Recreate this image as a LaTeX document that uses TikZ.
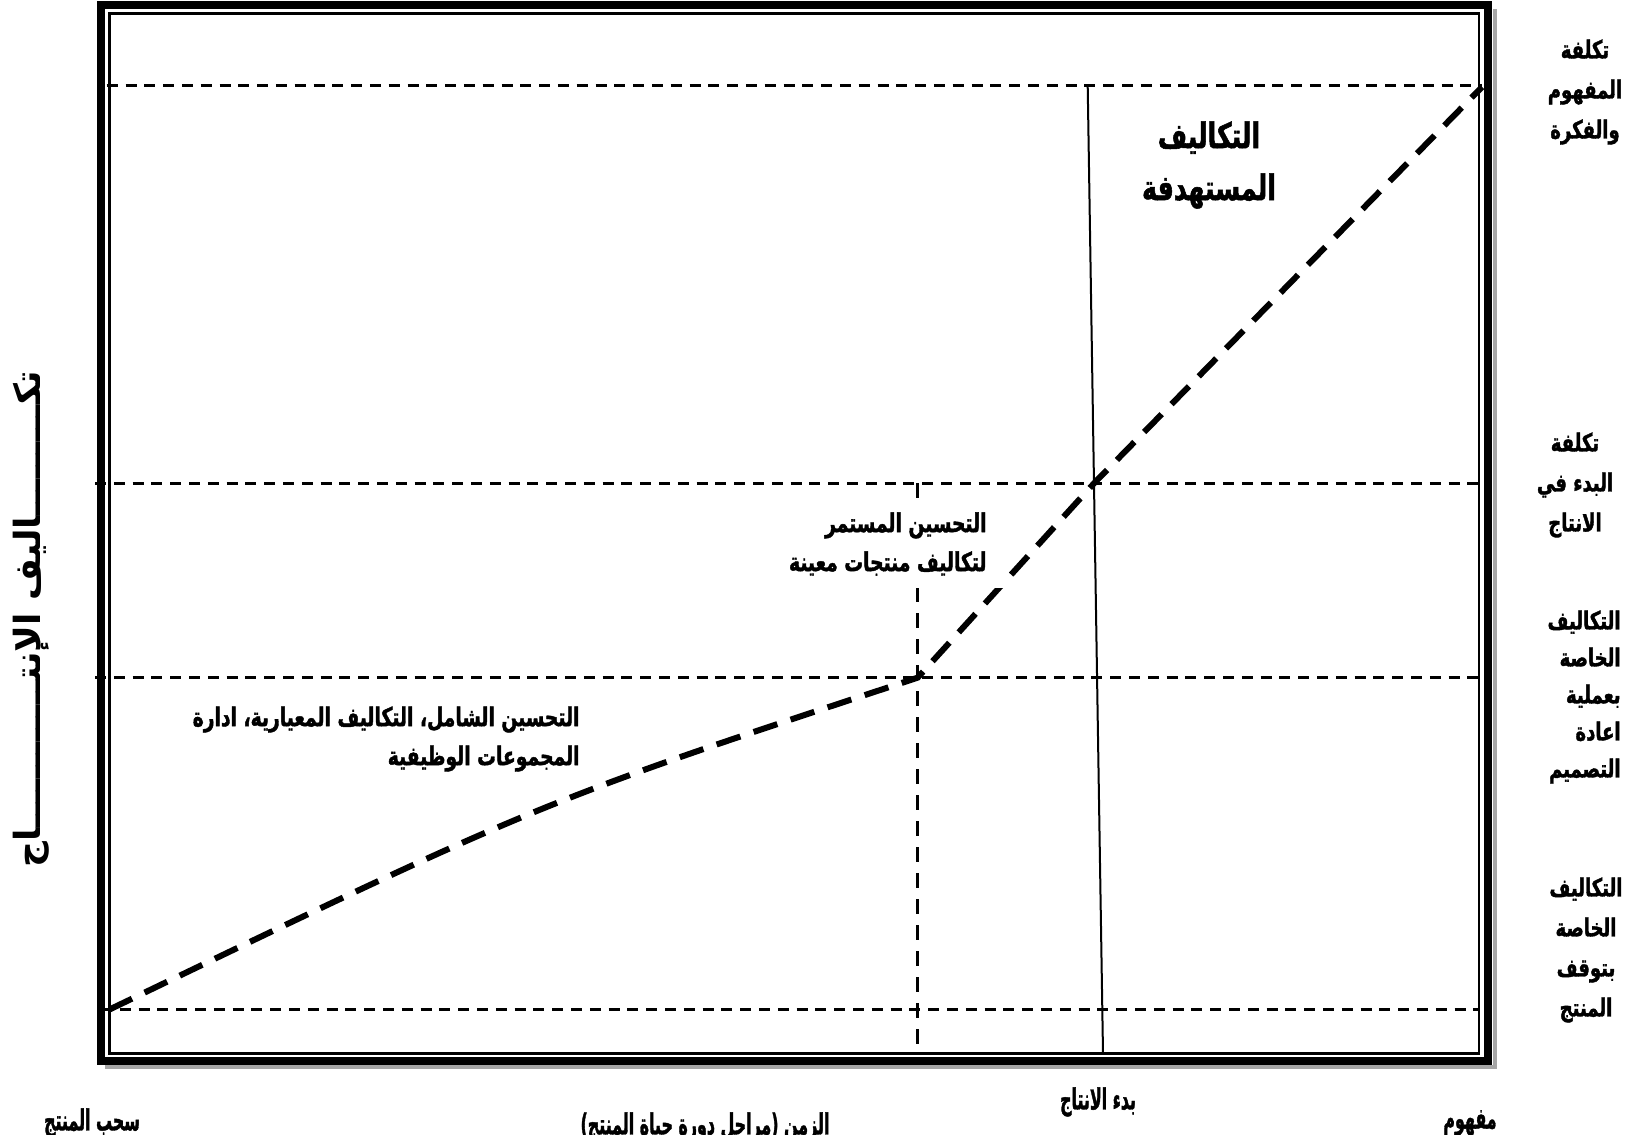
\documentclass[tikz,border=0pt]{standalone}
\usepackage{fontspec}
\usepackage{graphicx}
\TeXXeTstate=1
\newfontfamily\arabicfont[Script=Arabic, FakeStretch=0.72, FakeBold=1.5]{DejaVu Sans}
\newfontfamily\arabicplain[Script=Arabic]{DejaVu Sans}
\newcommand{\rl}[1]{\beginR #1\endR}
\newcommand{\narrow}[1]{\scalebox{0.76}[1]{#1}}

\begin{document}
\begin{tikzpicture}[x=0.5pt,y=-0.5pt,
  sidelbl/.style={font=\arabicfont\bfseries\fontsize{12.5}{20}\selectfont, align=center, inner sep=0pt},
  midlbl/.style={font=\arabicfont\bfseries\fontsize{13}{19.5}\selectfont, align=right, inner sep=0pt},
  biglbl/.style={font=\arabicfont\bfseries\fontsize{17.5}{26}\selectfont, align=center, inner sep=0pt},
  axislbl/.style={font=\arabicfont\bfseries\fontsize{14.5}{18}\selectfont, inner sep=0pt},
  hdash/.style={line width=1.5pt, dash pattern=on 5.5pt off 3.9pt},
  vdash/.style={line width=1.5pt, dash pattern=on 7.5pt off 5.5pt},
  costcurve/.style={line width=3pt, dash pattern=on 12.5pt off 7pt},
  outerframe/.style={line width=4pt},
  innerframe/.style={line width=1.25pt}]
\useasboundingbox (0,0) rectangle (1635,1135);

% double frame with a grey drop shadow
\fill[black!35] (105,9) rectangle (1497,1069);
\fill[white] (97,1) rectangle (1493,1065);
\draw[outerframe] (101,5) rectangle (1488,1061);
\draw[innerframe] (109.5,13.5) rectangle (1479,1053.4);

% reference points of the cost levels and stages
\coordinate (t1l) at (106.7,85.7);  \coordinate (t1r) at (1482,85.7);
\coordinate (t2l) at (95,483.3);    \coordinate (t2r) at (1486,483.3);
\coordinate (t3l) at (95,677.7);    \coordinate (t3r) at (1486,677.7);
\coordinate (t4l) at (101,1009.5);  \coordinate (t4r) at (1479,1009.5);
\coordinate (vtop) at (917.7,483.3); \coordinate (vbot) at (917.7,1053);
\coordinate (ptop) at (1087.7,85.7); \coordinate (pbot) at (1103,1053);
\coordinate (c0) at (109.5,1009.5);
\coordinate (c1) at (917.6,677.7);
\coordinate (c2) at (1094,483.3);
\coordinate (c3) at (1482,87);

% cost levels
\draw[hdash] (t1l) -- (t1r);
\draw[hdash] (t2l) -- (t2r);
\draw[hdash] (t3l) -- (t3r);
\draw[hdash] (t4l) -- (t4r);
\draw[vdash] (vtop) -- (vbot);
\draw[line width=1pt] (ptop) -- (pbot);

% cost curve over the product life cycle
\draw[costcurve] (c0) .. controls (540,802) .. (c1) -- (c2) -- (c3);

% texts inside the frame
\node[biglbl] (target) at (1209,165) {\rl{التكاليف}\\\rl{المستهدفة}};
\node[midlbl, anchor=east, fill=white, inner xsep=10.5pt, inner ysep=6pt] (kaizen) at (1008,544)
  {\rl{التحسين المستمر}\\\rl{لتكاليف منتجات معينة}};
\node[midlbl, anchor=east] (total) at (580,739)
  {\rl{التحسين الشامل، التكاليف المعيارية، ادارة}\\\rl{المجموعات الوظيفية}};

% cost axis
\node[font=\arabicplain\bfseries\fontsize{18}{20}\selectfont, rotate=90, inner sep=0pt] (yaxis) at (31,619)
  {\rl{تكـــــــــاليف الإنتــــــــــــاج}};

% cost labels on the right
\node[sidelbl] (lconcept) at (1585,92) {\rl{تكلفة}\\\rl{المفهوم}\\\rl{والفكرة}};
\node[sidelbl] (lstart) at (1575,485) {\rl{تكلفة}\\\rl{البدء في}\\\rl{الانتاج}};
\node[sidelbl, font=\arabicfont\bfseries\fontsize{12.5}{18.5}\selectfont, align=right, anchor=east] (lredesign) at (1621,697)
  {\rl{التكاليف}\\\rl{الخاصة}\\\rl{بعملية}\\\rl{اعادة}\\\rl{التصميم}};
\node[sidelbl] (lstop) at (1586,950) {\rl{التكاليف}\\\rl{الخاصة}\\\rl{بتوقف}\\\rl{المنتج}};

% life cycle stages below the frame
\node[axislbl] (swithdraw) at (92,1123) {\narrow{\rl{سحب المنتج}}};
\node[axislbl] (xaxis) at (705,1127) {\narrow{\rl{الزمن (مراحل دورة حياة المنتج)}}};
\node[axislbl] (sstart) at (1098,1102) {\narrow{\rl{بدء الانتاج}}};
\node[axislbl] (sconcept) at (1470,1123) {\narrow{\rl{مفهوم}}};
\end{tikzpicture}
\end{document}
